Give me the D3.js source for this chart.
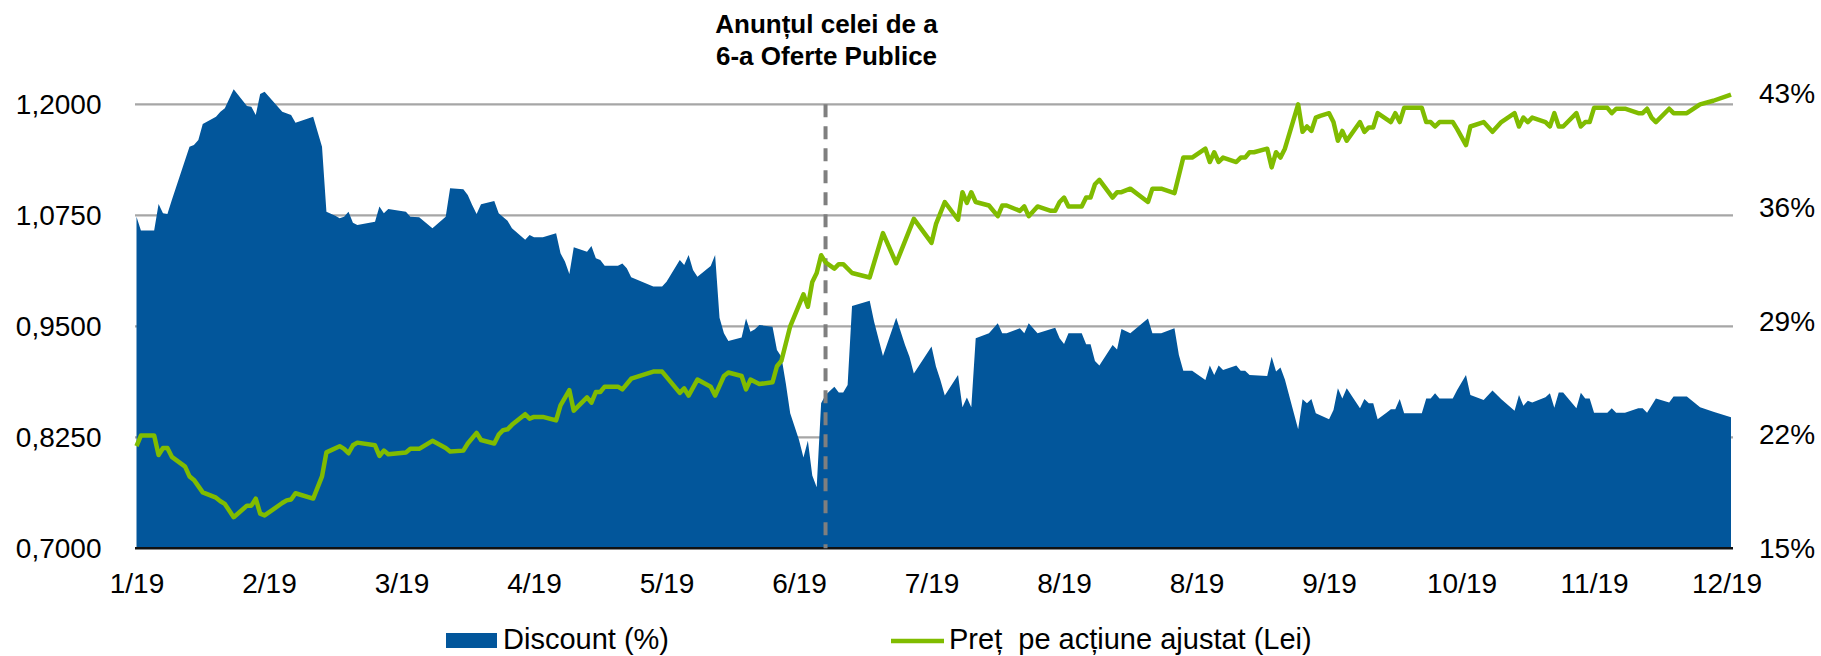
<!DOCTYPE html>
<html>
<head>
<meta charset="utf-8">
<script src="https://cdn.jsdelivr.net/npm/d3@7"></script>
<style>
	body { margin: 0; background: #fff; }
	svg { display: block; }
	text { font-family: "Liberation Sans", Arial, sans-serif; fill: #000; }
</style>
</head>
<body>
<svg id="chart" width="1821" height="656"></svg>
<script>
/*globals d3 */
(function() {
	"use strict";

	// [day of year 2019 (Jan 1 = 0), discount %]
	var discountData = [
		[2,35.44],[3,34.58],[6,34.58],[7,36.22],[8,35.65],[9,35.60],[10,36.47],[14,39.75],[15,39.86],[16,40.17],
		[17,41.15],[20,41.60],[21,41.91],[22,42.12],[24,43.29],[27,42.26],[28,42.22],[29,41.71],[30,43.00],[31,43.14],
		[35,41.91],[37,41.71],[38,41.23],[41,41.50],[42,41.60],[44,39.75],[45,35.75],[47,35.50],[48,35.34],[49,35.44],
		[50,35.75],[51,35.07],[52,34.93],[56,35.13],[57,36.06],[58,35.65],[59,35.91],[63,35.75],[64,35.44],[66,35.40],
		[69,34.72],[72,35.44],[73,37.19],[76,37.13],[77,36.78],[78,36.16],[79,35.60],[80,36.20],[83,36.40],[84,35.65],
		[86,35.19],[87,34.72],[90,34.02],[91,34.31],[92,34.17],[94,34.17],[97,34.41],[98,33.18],[99,32.67],[100,31.91],
		[101,33.55],[104,33.28],[105,33.63],[106,32.87],[107,32.77],[108,32.42],[111,32.42],[112,32.56],[113,32.26],[114,31.70],
		[119,31.13],[121,31.13],[122,31.43],[125,32.77],[126,32.46],[127,33.08],[128,32.15],[129,31.74],[132,32.40],[133,33.08],
		[134,29.21],[135,28.25],[136,27.78],[139,28.00],[140,29.17],[141,28.35],[142,28.50],[143,28.76],[146,28.66],[147,27.22],
		[148,26.81],[149,25.17],[150,23.32],[152,21.67],[153,20.59],[154,21.63],[155,19.48],[156,18.76],[157,23.94],[158,24.45],
		[160,24.96],[161,24.61],[162,24.61],[163,25.06],[164,29.93],[168,30.26],[169,28.97],[171,26.85],[174,29.21],[176,27.53],
		[177,26.81],[178,25.78],[182,27.43],[183,26.20],[184,25.37],[185,24.41],[188,25.68],[189,23.69],[190,24.30],[191,23.69],
		[192,27.94],[195,28.25],[197,28.87],[198,28.25],[199,28.25],[202,28.56],[203,28.25],[204,28.87],[206,28.25],[210,28.60],
		[211,27.94],[212,27.59],[213,28.25],[216,28.25],[217,27.57],[218,27.57],[219,26.54],[220,26.26],[223,27.53],[224,27.26],
		[225,28.52],[227,28.25],[231,29.17],[232,28.25],[234,28.25],[237,28.56],[238,26.91],[239,25.95],[241,25.95],[244,25.37],
		[245,26.26],[246,25.68],[247,26.26],[248,25.99],[251,26.26],[252,25.95],[253,25.95],[254,25.68],[258,25.62],[259,26.81],
		[260,25.89],[261,26.15],[262,25.41],[265,22.33],[266,24.18],[267,23.94],[268,24.20],[269,23.32],[272,22.95],[273,23.52],
		[274,24.86],[275,24.24],[276,24.86],[279,23.63],[280,24.20],[281,23.94],[282,23.94],[283,22.95],[285,23.36],[286,23.57],
		[287,23.57],[288,24.20],[289,23.32],[293,23.32],[294,24.24],[295,24.24],[296,24.55],[297,24.24],[300,24.24],[301,24.76],
		[303,25.68],[304,24.45],[307,24.14],[309,24.72],[311,24.18],[314,23.48],[315,24.45],[316,23.79],[317,24.10],[318,23.98],
		[321,24.31],[322,24.55],[323,23.67],[324,24.61],[325,24.61],[328,23.63],[329,24.59],[330,24.24],[331,24.24],[332,23.36],
		[335,23.36],[336,23.63],[337,23.36],[339,23.36],[342,23.63],[343,23.63],[344,23.36],[346,24.24],[349,23.98],[350,24.35],
		[353,24.35],[356,23.69],[359,23.42],[363,23.07]
	];

	// [day of year 2019, adjusted price per share (Lei)]
	var priceData = [
		[2,0.815],[3,0.827],[6,0.827],[7,0.805],[8,0.813],[9,0.813],[10,0.803],[13,0.792],[14,0.781],[15,0.777],
		[17,0.763],[20,0.757],[21,0.753],[22,0.750],[24,0.735],[27,0.748],[28,0.748],[29,0.756],[30,0.739],[31,0.737],
		[35,0.751],[36,0.754],[37,0.755],[38,0.762],[42,0.756],[44,0.781],[45,0.808],[48,0.815],[49,0.812],[50,0.807],
		[51,0.816],[52,0.819],[56,0.816],[57,0.804],[58,0.810],[59,0.806],[63,0.808],[64,0.812],[66,0.812],[69,0.821],
		[72,0.813],[73,0.809],[76,0.810],[77,0.818],[79,0.830],[80,0.822],[83,0.818],[84,0.828],[85,0.833],[86,0.834],
		[87,0.839],[90,0.851],[91,0.846],[92,0.848],[94,0.848],[97,0.844],[98,0.861],[100,0.878],[101,0.855],[104,0.870],
		[105,0.864],[106,0.876],[107,0.876],[108,0.882],[111,0.882],[112,0.879],[114,0.891],[119,0.899],[121,0.899],[125,0.875],
		[126,0.880],[127,0.872],[129,0.890],[132,0.882],[133,0.872],[135,0.894],[136,0.898],[139,0.894],[140,0.879],[141,0.890],
		[143,0.885],[146,0.887],[147,0.905],[148,0.911],[150,0.950],[153,0.986],[154,0.972],[155,1.000],[156,1.010],[157,1.030],
		[158,1.022],[160,1.015],[161,1.020],[162,1.020],[164,1.010],[168,1.005],[171,1.055],[174,1.021],[178,1.071],[182,1.044],
		[183,1.065],[185,1.090],[188,1.070],[189,1.101],[190,1.089],[191,1.101],[192,1.090],[195,1.086],[197,1.074],[198,1.086],
		[199,1.086],[202,1.080],[203,1.085],[204,1.074],[206,1.085],[209,1.080],[210,1.080],[211,1.090],[212,1.095],[213,1.085],
		[216,1.085],[217,1.095],[218,1.095],[219,1.110],[220,1.115],[223,1.095],[224,1.101],[225,1.101],[227,1.105],[231,1.090],
		[232,1.105],[234,1.105],[237,1.100],[239,1.140],[241,1.140],[244,1.150],[245,1.135],[246,1.146],[247,1.135],[248,1.140],
		[251,1.135],[252,1.140],[253,1.140],[254,1.146],[255,1.146],[258,1.150],[259,1.129],[260,1.146],[261,1.140],[262,1.150],
		[265,1.200],[266,1.169],[267,1.175],[268,1.170],[269,1.185],[270,1.187],[272,1.190],[273,1.180],[274,1.159],[275,1.170],
		[276,1.159],[279,1.180],[280,1.169],[281,1.174],[282,1.174],[283,1.190],[286,1.180],[287,1.190],[288,1.180],[289,1.196],
		[293,1.196],[294,1.180],[295,1.180],[296,1.175],[297,1.180],[300,1.180],[301,1.172],[303,1.154],[304,1.175],[307,1.180],
		[309,1.169],[311,1.180],[314,1.190],[315,1.175],[316,1.185],[317,1.180],[318,1.185],[321,1.180],[322,1.175],[323,1.190],
		[324,1.175],[325,1.175],[328,1.190],[329,1.175],[330,1.180],[331,1.180],[332,1.196],[335,1.196],[336,1.190],[337,1.195],
		[339,1.195],[342,1.190],[343,1.190],[344,1.195],[345,1.185],[346,1.180],[349,1.195],[350,1.190],[353,1.190],[356,1.200],
		[359,1.204],[363,1.211]
	];

	var leftTicks = [0.70, 0.825, 0.95, 1.075, 1.20];
	var rightTicks = [15, 22, 29, 36, 43];
	var firstDay = 2, lastDay = 363, tickStepDays = 30, tickCount = 13;
	var eventDay = 158;
	var eventLabel = ["Anunțul celei de a", "6-a Oferte Publice"];
	var legendLabels = ["Discount (%)", "Preț  pe acțiune ajustat (Lei)"];

	var BLUE = "#02569b", GREEN = "#80bc00", GRID = "#a6a6a6";

	function toDate(day) { return new Date(2019, 0, 1 + day); }

	var svg = d3.select("#chart");
	var left = 136.5, right = 1731, bottom = 548.3;

	var x = d3.scaleTime().domain([toDate(firstDay), toDate(lastDay)]).range([left, right]);
	var yLeft = d3.scaleLinear().domain([0.70, 1.20]).range([bottom, 104.3]);
	var yRight = d3.scaleLinear().domain([15, 43]).range([bottom, 94]);

	// gridlines (left axis)
	svg.append("g").selectAll("line").data(leftTicks.slice(1)).enter().append("line")
		.attr("x1", left - 1.5).attr("x2", right + 2)
		.attr("y1", function(d) { return yLeft(d); })
		.attr("y2", function(d) { return yLeft(d); })
		.attr("stroke", GRID).attr("stroke-width", 2.2);

	// discount area (right axis)
	var area = d3.area()
		.x(function(d) { return x(toDate(d[0])); })
		.y0(yRight(15))
		.y1(function(d) { return yRight(d[1]); });
	svg.append("path").datum(discountData).attr("d", area).attr("fill", BLUE);

	// baseline
	svg.append("line").attr("x1", left - 1.5).attr("x2", right + 2)
		.attr("y1", bottom).attr("y2", bottom)
		.attr("stroke", "#111").attr("stroke-width", 2.6);

	// event marker
	svg.append("line")
		.attr("x1", x(toDate(eventDay))).attr("x2", x(toDate(eventDay)))
		.attr("y1", yLeft(1.20)).attr("y2", bottom)
		.attr("stroke", "#7f7f7f").attr("stroke-width", 4)
		.attr("stroke-dasharray", "13,9");

	// price line (left axis)
	var line = d3.line()
		.x(function(d) { return x(toDate(d[0])); })
		.y(function(d) { return yLeft(d[1]); });
	svg.append("path").datum(priceData).attr("d", line)
		.attr("fill", "none").attr("stroke", GREEN)
		.attr("stroke-width", 4.5).attr("stroke-linejoin", "round");

	// axes
	function styleAxis(g) {
		g.select(".domain").remove();
		g.selectAll("line").remove();
		g.selectAll("text").attr("font-size", 28).attr("fill", "#000")
			.style("font-family", "\"Liberation Sans\", Arial, sans-serif");
	}

	var leftAxis = d3.axisLeft(yLeft).tickValues(leftTicks).tickSize(0).tickPadding(35)
		.tickFormat(function(d) { return d3.format(".4f")(d).replace(".", ","); });
	svg.append("g").attr("transform", "translate(" + left + ",0)").call(leftAxis).call(styleAxis);

	var rightAxis = d3.axisRight(yRight).tickValues(rightTicks).tickSize(0).tickPadding(26)
		.tickFormat(function(d) { return d + "%"; });
	svg.append("g").attr("transform", "translate(" + (right + 2) + ",0)").call(rightAxis).call(styleAxis);

	var xTicks = d3.range(tickCount).map(function(i) { return toDate(firstDay + i * tickStepDays); });
	var bottomAxis = d3.axisBottom(x).tickValues(xTicks).tickSize(0).tickPadding(25)
		.tickFormat(d3.timeFormat("%-m/%y"));
	svg.append("g").attr("transform", "translate(0," + bottom + ")").call(bottomAxis).call(styleAxis);

	// annotation
	svg.append("text")
		.attr("x", x(toDate(eventDay)) + 1)
		.attr("text-anchor", "middle")
		.attr("font-size", 26).attr("font-weight", "bold")
		.selectAll("tspan").data(eventLabel).enter().append("tspan")
		.attr("x", x(toDate(eventDay)) + 1)
		.attr("y", function(d, i) { return 33 + i * 32; })
		.text(function(d) { return d; });

	// legend
	var legend = svg.append("g");
	legend.append("rect").attr("x", 446).attr("y", 633).attr("width", 51).attr("height", 15).attr("fill", BLUE);
	legend.append("text").attr("x", 503).attr("y", 649).attr("font-size", 29).text(legendLabels[0]);
	legend.append("line").attr("x1", 891).attr("x2", 944).attr("y1", 641).attr("y2", 641)
		.attr("stroke", GREEN).attr("stroke-width", 4.5);
	legend.append("text").attr("x", 949).attr("y", 649).attr("font-size", 29)
		.style("white-space", "pre").text(legendLabels[1]);
}());
</script>
</body>
</html>
